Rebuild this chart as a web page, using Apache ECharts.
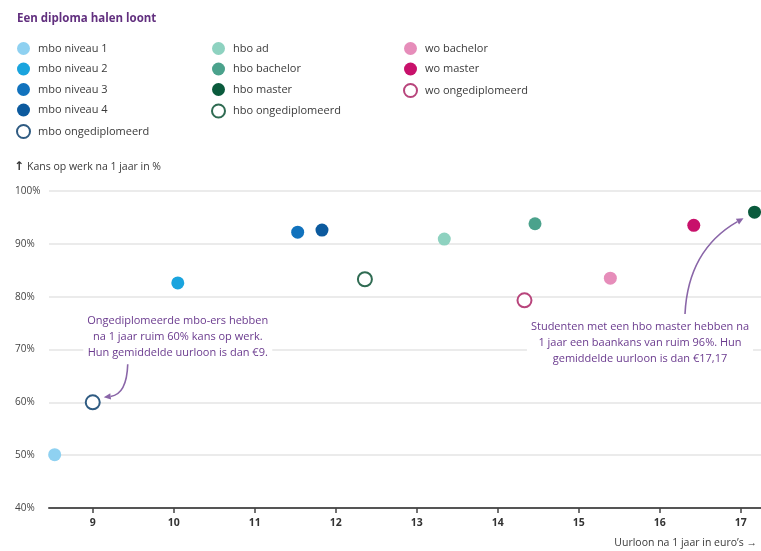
<!DOCTYPE html>
<html>
<head>
<meta charset="utf-8">
<script src="https://cdn.jsdelivr.net/npm/echarts@6/dist/echarts.min.js"></script>
<style>
  html, body { margin: 0; padding: 0; background: #fff; }
  #chart { width: 761px; height: 551px; }
</style>
</head>
<body>
<div id="chart"></div>
<script>
// Education levels, one scatter series per level
const levels = [
  'mbo niveau 1', 'mbo niveau 2', 'mbo niveau 3', 'mbo niveau 4', 'mbo ongediplomeerd',
  'hbo ad', 'hbo bachelor', 'hbo master', 'hbo ongediplomeerd',
  'wo bachelor', 'wo master', 'wo ongediplomeerd'
];
// Average hourly wage after 1 year (euro)
const hourlyWage = [8.53, 10.05, 11.53, 11.83, 9.0, 13.34, 14.46, 17.17, 12.36, 15.39, 16.42, 14.33];
// Chance of having work after 1 year (%)
const jobChance = [50.1, 82.6, 92.2, 92.6, 60.0, 90.9, 93.8, 96.0, 83.3, 83.5, 93.5, 79.3];
// Levels that did not finish the diploma are drawn as rings
const unfinished = [false, false, false, false, true, false, false, false, true, false, false, true];

const xTicks = [9, 10, 11, 12, 13, 14, 15, 16, 17];

const palette = ['#8fd1f1', '#1aa4de', '#1172bd', '#0c5a9e', '#2f5b82',
                 '#8ed2c0', '#4ba28c', '#0a5a3c', '#2f6b52',
                 '#e68dba', '#c8116b', '#b8457c'];

const FONT = '"Open Sans", "Noto Sans", sans-serif';
const PURPLE = '#6a3a8e';

const chart = echarts.init(document.getElementById('chart'));

const series = levels.map((name, i) => ({
  type: 'scatter',
  name: name,
  data: [[hourlyWage[i], jobChance[i]]],
  symbol: 'circle',
  symbolSize: unfinished[i] ? 14 : 13,
  itemStyle: unfinished[i]
    ? { color: '#fff', borderColor: palette[i], borderWidth: 2, opacity: 1 }
    : { color: palette[i], opacity: 1 },
  emphasis: { disabled: true },
  z: 5
}));

function legendColumn(left, names) {
  return {
    orient: 'vertical',
    left: left,
    top: 37,
    itemWidth: 13,
    itemHeight: 13,
    itemGap: 7.5,
    icon: 'circle',
    selectedMode: false,
    data: names,
    textStyle: { fontFamily: FONT, fontSize: 11, color: '#3a3a3a', padding: [0, 0, 0, 3] }
  };
}

chart.setOption({
  animation: false,
  textStyle: { fontFamily: FONT },
  title: {
    text: 'Een diploma halen loont',
    left: 12,
    top: 8,
    textStyle: { fontFamily: FONT, fontSize: 11.5, fontWeight: 'bold', color: '#62307f' }
  },
  legend: [
    legendColumn(11, levels.slice(0, 5)),
    legendColumn(206, levels.slice(5, 9)),
    legendColumn(398, levels.slice(9, 12))
  ],
  grid: { left: 49, right: 0, top: 191, bottom: 43 },
  xAxis: {
    type: 'value',
    min: 8.46,
    max: 17.25,
    axisLine: { show: true, lineStyle: { color: '#555', width: 2 } },
    axisTick: { show: true, customValues: xTicks, length: 5, lineStyle: { color: '#444', width: 1.5 } },
    axisLabel: { customValues: xTicks, margin: 10, fontSize: 10.5, color: '#333', fontWeight: 'bold', fontFamily: FONT },
    splitLine: { show: false }
  },
  yAxis: {
    type: 'value',
    min: 40,
    max: 100,
    interval: 10,
    axisLine: { show: false },
    axisTick: { show: false },
    axisLabel: { formatter: '{value}%', align: 'left', margin: 34, fontSize: 10, color: '#444', fontFamily: FONT },
    splitLine: { lineStyle: { color: '#e4e4e4', width: 1.5 } }
  },
  series: series
});

// Arrow helper: quadratic curve with a filled head at the end
function arrow(x1, y1, cx, cy, x2, y2) {
  const ang = Math.atan2(y2 - cy, x2 - cx);
  const L = 7, W = 3.2;
  const bx = x2 - L * Math.cos(ang), by = y2 - L * Math.sin(ang);
  const px = -Math.sin(ang) * W, py = Math.cos(ang) * W;
  return [
    {
      type: 'bezierCurve',
      shape: { x1: x1, y1: y1, cpx1: cx, cpy1: cy, x2: bx, y2: by },
      style: { stroke: '#8a66a8', lineWidth: 1.6, fill: null },
      z: 10
    },
    {
      type: 'polygon',
      shape: { points: [[x2, y2], [bx + px, by + py], [bx - px, by - py]] },
      style: { fill: '#8a66a8' },
      z: 10
    }
  ];
}

function note(x, y, text) {
  return {
    type: 'text',
    x: x,
    y: y,
    z: 8,
    style: {
      text: text,
      align: 'center',
      verticalAlign: 'top',
      fontFamily: FONT,
      fontSize: 11,
      lineHeight: 16,
      fill: PURPLE,
      backgroundColor: '#fff',
      padding: [0, 4]
    }
  };
}

const mboOng = chart.convertToPixel({ seriesIndex: 4 }, [hourlyWage[4], jobChance[4]]);
const hboMaster = chart.convertToPixel({ seriesIndex: 7 }, [hourlyWage[7], jobChance[7]]);

const graphics = [
  {
    type: 'text', left: 14, top: 161,
    style: { text: '↑', fontFamily: '"DejaVu Sans", sans-serif', fontSize: 12, fontWeight: 'bold', fill: '#333' }
  },
  {
    type: 'text', left: 27, top: 162,
    style: { text: 'Kans op werk na 1 jaar in %', fontFamily: FONT, fontSize: 10.5, fill: '#3a3a3a' }
  },
  {
    type: 'text', right: 4, top: 538,
    style: { text: 'Uurloon na 1 jaar in euro\u2019s \u2192', fontFamily: FONT, fontSize: 10.5, fill: '#3a3a3a' }
  },
  note(mboOng[0] + 85, mboOng[1] - 89,
    'Ongediplomeerde mbo-ers hebben\nna 1 jaar ruim 60% kans op werk.\nHun gemiddelde uurloon is dan €9.'),
  note(640, 319,
    'Studenten met een hbo master hebben na\n1 jaar een baankans van ruim 96%. Hun\ngemiddelde uurloon is dan €17,17')
].concat(
  arrow(mboOng[0] + 35, mboOng[1] - 38, mboOng[0] + 34, mboOng[1] - 8, mboOng[0] + 11, mboOng[1] - 5),
  arrow(685, 314, 688, 250, hboMaster[0] - 11, hboMaster[1] + 6)
);

chart.setOption({ graphic: graphics });
</script>
</body>
</html>
